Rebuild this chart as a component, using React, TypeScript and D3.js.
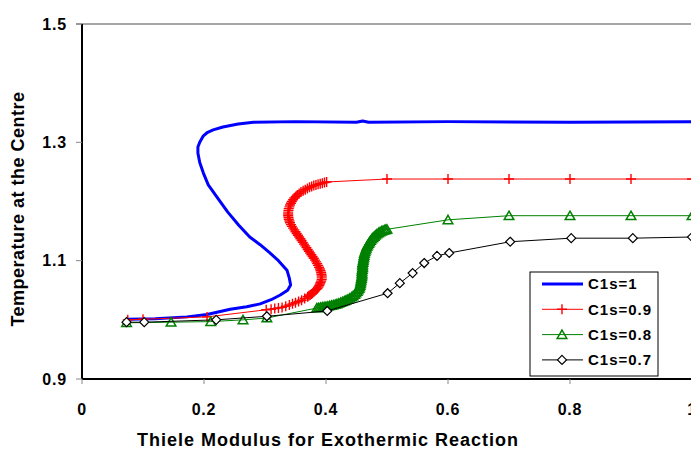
import * as d3 from 'd3';
import React from 'react';

// x ticks / y ticks
const xTicks = [0, 0.2, 0.4, 0.6, 0.8, 1];
const yTicks = [0.9, 1.1, 1.3, 1.5];

// C1s=1 (line only)
const c1x = [0.075, 0.12, 0.172, 0.205, 0.243, 0.27, 0.292, 0.31, 0.325, 0.337, 0.342, 0.34, 0.336, 0.322, 0.308, 0.292, 0.275, 0.257, 0.239, 0.221, 0.207, 0.199, 0.193, 0.19, 0.19, 0.193, 0.199, 0.206, 0.215, 0.231, 0.256, 0.281, 0.35, 0.45, 0.46, 0.47, 0.6, 0.8, 1.0];
const c1y = [1.001, 1.002, 1.005, 1.009, 1.018, 1.022, 1.027, 1.034, 1.042, 1.05, 1.059, 1.07, 1.084, 1.1, 1.113, 1.127, 1.14, 1.16, 1.182, 1.208, 1.228, 1.248, 1.266, 1.282, 1.292, 1.3, 1.311, 1.317, 1.321, 1.326, 1.331, 1.334, 1.335, 1.334, 1.336, 1.334, 1.335, 1.334, 1.335];

// C1s=0.9
const c09x = [0.075, 0.1, 0.205, 0.302, 0.31, 0.316, 0.322, 0.328, 0.334, 0.34, 0.345, 0.35, 0.355, 0.36, 0.365,
  0.37, 0.372, 0.374, 0.376, 0.378, 0.38, 0.382, 0.384, 0.386, 0.3875, 0.389, 0.39, 0.391, 0.392, 0.393,
  0.393, 0.393, 0.3925, 0.392, 0.391, 0.39, 0.3885, 0.387, 0.3855, 0.384, 0.382, 0.38, 0.378, 0.376, 0.374, 0.372, 0.37, 0.368, 0.366, 0.364, 0.362, 0.36, 0.358, 0.356, 0.354, 0.352, 0.35, 0.348, 0.346, 0.344, 0.3425, 0.341, 0.34, 0.339, 0.3385, 0.338,
  0.338, 0.338, 0.3385, 0.339, 0.34, 0.341, 0.3425, 0.344, 0.346, 0.348, 0.3505, 0.353, 0.356, 0.359, 0.3625, 0.366, 0.3695, 0.373, 0.3765, 0.38, 0.3835, 0.387, 0.3905, 0.394, 0.3975, 0.401,
  0.5, 0.6, 0.7, 0.8, 0.9, 1.0];
const c09y = [1.0, 1.001, 1.005, 1.017, 1.018, 1.019, 1.02, 1.021, 1.023, 1.025, 1.027, 1.029, 1.031, 1.033, 1.036,
  1.039, 1.0405, 1.042, 1.0435, 1.045, 1.047, 1.049, 1.051, 1.053, 1.0555, 1.058, 1.0605, 1.063, 1.0655, 1.068,
  1.071, 1.074, 1.077, 1.08, 1.083, 1.086, 1.089, 1.092, 1.095, 1.098, 1.101, 1.104, 1.107, 1.11, 1.113, 1.116, 1.119, 1.122, 1.125, 1.128, 1.131, 1.134, 1.137, 1.14, 1.143, 1.146, 1.149, 1.152, 1.155, 1.158, 1.161, 1.164, 1.167, 1.17, 1.173, 1.176,
  1.179, 1.182, 1.185, 1.188, 1.191, 1.194, 1.197, 1.2, 1.203, 1.206, 1.2085, 1.211, 1.2135, 1.216, 1.218, 1.22, 1.222, 1.224, 1.2255, 1.227, 1.228, 1.229, 1.23, 1.231, 1.232, 1.233,
  1.238, 1.238, 1.238, 1.238, 1.238, 1.238];

// C1s=0.8
const c08x = [0.073, 0.146, 0.211, 0.264, 0.303,
  0.385, 0.388, 0.391, 0.394, 0.397, 0.4, 0.403, 0.406, 0.409, 0.412, 0.415, 0.418, 0.421, 0.424, 0.427, 0.43, 0.433, 0.436, 0.439, 0.442, 0.4445, 0.447, 0.449, 0.451, 0.4525, 0.454, 0.455, 0.456, 0.4565, 0.457, 0.4575, 0.458, 0.4585,
  0.459, 0.459, 0.459, 0.4595, 0.46, 0.46, 0.46, 0.4605, 0.461, 0.4615, 0.462, 0.4625, 0.463, 0.464, 0.465, 0.466, 0.467, 0.4685, 0.47, 0.4715, 0.473, 0.475, 0.477, 0.479, 0.481, 0.4835, 0.486, 0.4885, 0.491, 0.4935, 0.496, 0.498, 0.5,
  0.6, 0.7, 0.8, 0.9, 1.0];
const c08y = [0.995, 0.996, 0.997, 1.0, 1.003,
  1.02, 1.0205, 1.021, 1.0215, 1.022, 1.0225, 1.023, 1.0237, 1.0245, 1.0252, 1.026, 1.027, 1.028, 1.0292, 1.0305, 1.032, 1.0335, 1.035, 1.0365, 1.0385, 1.0405, 1.043, 1.0455, 1.048, 1.0505, 1.053, 1.0555, 1.058, 1.061, 1.064, 1.067, 1.07, 1.073,
  1.076, 1.079, 1.082, 1.085, 1.088, 1.091, 1.094, 1.097, 1.1, 1.103, 1.106, 1.109, 1.112, 1.115, 1.118, 1.121, 1.124, 1.1265, 1.129, 1.1315, 1.134, 1.1365, 1.139, 1.141, 1.143, 1.145, 1.147, 1.1485, 1.15, 1.151, 1.152, 1.1525, 1.153,
  1.169, 1.176, 1.176, 1.176, 1.176];

// C1s=0.7
const c07x = [0.073, 0.102, 0.22, 0.303, 0.402, 0.501, 0.521, 0.542, 0.561, 0.582, 0.602, 0.702, 0.802, 0.903, 1.0];
const c07y = [0.996, 0.996, 1.0, 1.006, 1.015, 1.045, 1.062, 1.079, 1.096, 1.108, 1.113, 1.132, 1.138, 1.138, 1.14];

const seriesNames = ['C1s=1', 'C1s=0.9', 'C1s=0.8', 'C1s=0.7'];
const seriesColors = ['#0000ff', '#ff0000', '#008000', '#000000'];

const W = 691;
const H = 449;
const x = d3.scaleLinear().domain([0, 1]).range([82, 692]);
const y = d3.scaleLinear().domain([0.9, 1.5]).range([379, 24]);

const zip = (xs: number[], ys: number[]) => xs.map((v, i) => [v, ys[i]] as [number, number]);
const line = d3.line<[number, number]>().x(d => x(d[0])).y(d => y(d[1]));

const marker = (kind: string, cx: number, cy: number, key: string | number) => {
  if (kind === 'plus') {
    return <path key={key} d={`M${cx - 5},${cy}H${cx + 5}M${cx},${cy - 5}V${cy + 5}`} stroke="#ff0000" strokeWidth={1.4} fill="none" />;
  }
  if (kind === 'tri') {
    return <path key={key} d={`M${cx},${cy - 4.5}L${cx + 4.8},${cy + 3.8}L${cx - 4.8},${cy + 3.8}Z`} stroke="#008000" strokeWidth={1.5} fill="none" />;
  }
  if (kind === 'dia') {
    return <path key={key} d={`M${cx},${cy - 4.5}L${cx + 4.5},${cy}L${cx},${cy + 4.5}L${cx - 4.5},${cy}Z`} stroke="#000" strokeWidth={1.2} fill="#fff" />;
  }
  return null;
};

const App = () => {
  const series = [
    { pts: zip(c1x, c1y), color: seriesColors[0], width: 3, kind: 'none' },
    { pts: zip(c09x, c09y), color: seriesColors[1], width: 1, kind: 'plus' },
    { pts: zip(c08x, c08y), color: seriesColors[2], width: 1, kind: 'tri' },
    { pts: zip(c07x, c07y), color: seriesColors[3], width: 1, kind: 'dia' },
  ];
  const font = 'Arial, "Liberation Sans", sans-serif';

  return (
    <svg width={W} height={H} style={{ position: 'absolute', left: 0, top: 0, background: '#fff' }} fontFamily={font}>
      {/* top line */}
      <line x1={76} x2={W} y1={y(1.5)} y2={y(1.5)} stroke="#888" strokeWidth={1.5} />
      {/* axes */}
      <line x1={x(0)} x2={x(0)} y1={y(1.5)} y2={y(0.9)} stroke="#000" strokeWidth={2} />
      <line x1={x(0)} x2={W} y1={y(0.9)} y2={y(0.9)} stroke="#000" strokeWidth={2} />
      {yTicks.map(t => (
        <g key={t}>
          <line x1={76} x2={x(0)} y1={y(t)} y2={y(t)} stroke="#888" />
          <text x={67} y={y(t)} dy="0.36em" textAnchor="end" fontSize={16} fontWeight="bold" letterSpacing={0.8}>{t.toFixed(1)}</text>
        </g>
      ))}
      {xTicks.map(t => (
        <g key={t}>
          <line x1={x(t)} x2={x(t)} y1={y(0.9)} y2={y(0.9) + 5} stroke="#888" />
          <text x={x(t)} y={409} dy="0.36em" textAnchor="middle" fontSize={16} fontWeight="bold" letterSpacing={0.8}>{t === 0 || t === 1 ? String(t) : t.toFixed(1)}</text>
        </g>
      ))}
      {/* series */}
      {series.map((s, i) => (
        <g key={i}>
          <path d={line(s.pts) || ''} fill="none" stroke={s.color} strokeWidth={s.width} strokeLinejoin="round" />
          {s.kind !== 'none' && s.pts.map((p, j) => marker(s.kind, x(p[0]), y(p[1]), j))}
        </g>
      ))}
      {/* axis titles */}
      <text x={328} y={446} textAnchor="middle" fontSize={18} fontWeight="bold" letterSpacing={1}>Thiele Modulus for Exothermic Reaction</text>
      <text transform={`translate(18,209) rotate(-90)`} dy="0.36em" textAnchor="middle" fontSize={18} fontWeight="bold" letterSpacing={0.5}>Temperature at the Centre</text>
      {/* legend */}
      <rect x={530} y={272} width={128} height={104} fill="#fff" stroke="#000" strokeWidth={1} />
      {seriesNames.map((n, i) => {
        const ly = 284 + i * 25.3;
        const kinds = ['none', 'plus', 'tri', 'dia'];
        return (
          <g key={n}>
            <line x1={542} x2={583} y1={ly} y2={ly} stroke={seriesColors[i]} strokeWidth={i === 0 ? 3 : 1} />
            {marker(kinds[i], 562, ly, 'm')}
            <text x={588} y={ly} dy="0.36em" fontSize={15} fontWeight="bold" letterSpacing={1}>{n}</text>
          </g>
        );
      })}
    </svg>
  );
};

export default App;
